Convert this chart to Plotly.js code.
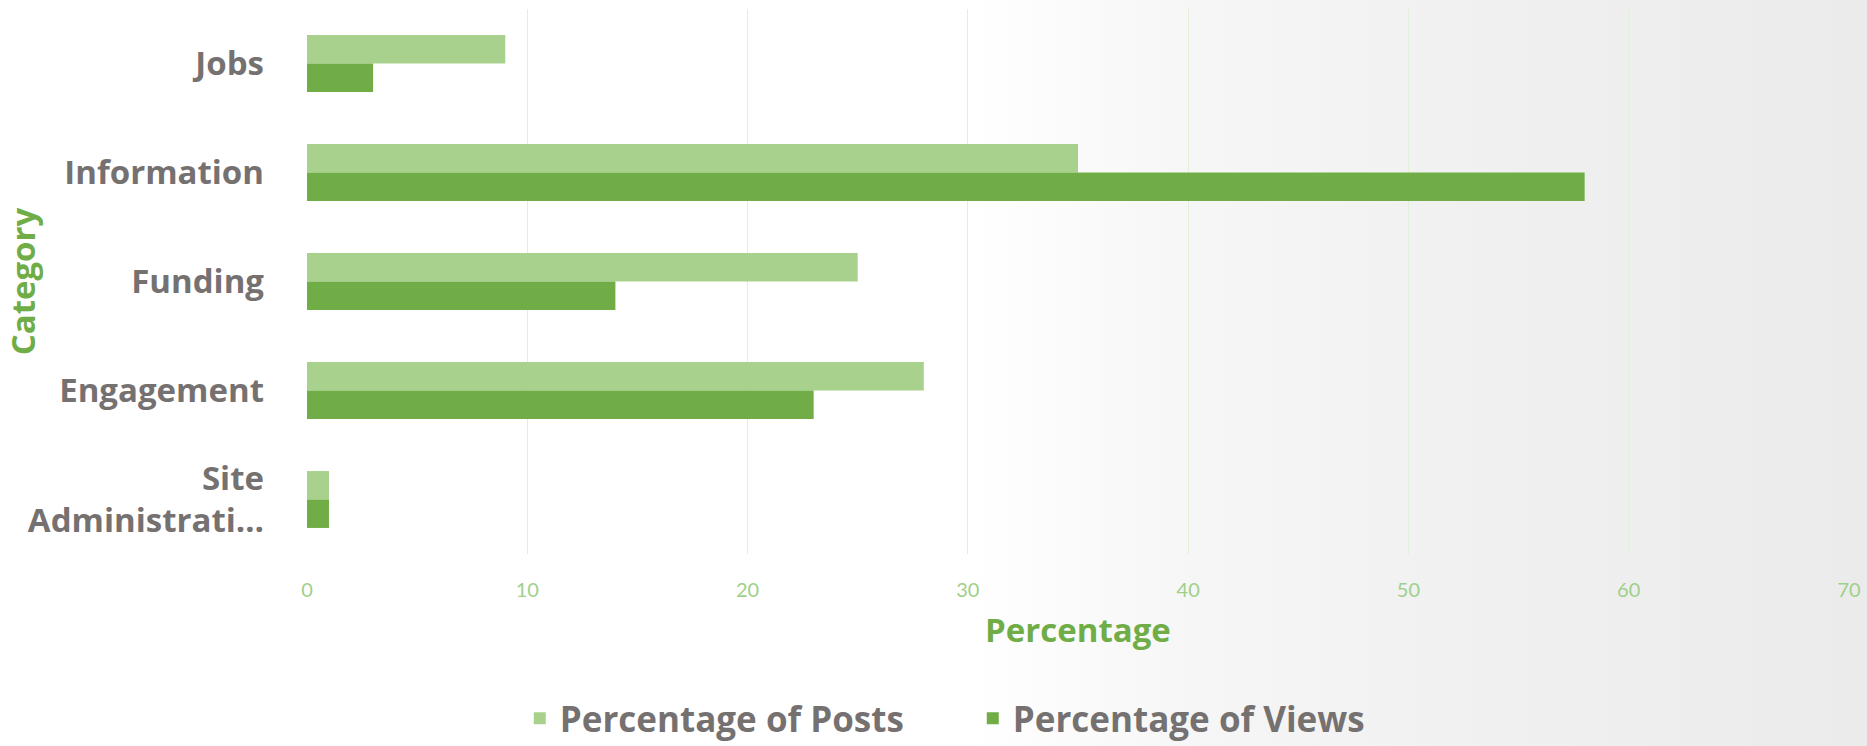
<!DOCTYPE html>
<html>
<head>
<meta charset="utf-8">
<script src="https://cdn.plot.ly/plotly-3.0.1.min.js"></script>
<style>
  html, body { margin: 0; padding: 0; }
  body {
    width: 1867px; height: 746px; overflow: hidden;
    background: linear-gradient(to right, #ffffff 0%, #ffffff 52%, #f6f6f6 64%, #f0f0f0 80%, #ebebeb 100%);
  }
  #chart { width: 1867px; height: 746px; }
</style>
</head>
<body>
<div id="chart"></div>
<script>
const categories = ["Jobs", "Information", "Funding", "Engagement", "Site<br>Administrati…"];
const postsPct = [9, 35, 25, 28, 1];
const viewsPct = [3, 58, 14, 23, 1];
const seriesNames = ["Percentage of Posts", "Percentage of Views"];
const xTicks = [0, 10, 20, 30, 40, 50, 60, 70];

const gray = "#767171";
const lightGreen = "#A9D18E";
const darkGreen = "#70AD47";
const fontFam = "'Open Sans', Lato, sans-serif";

const traces = [
  {
    type: "bar", orientation: "h",
    name: seriesNames[0], y: categories, x: postsPct,
    marker: { color: lightGreen },
    hoverinfo: "x+name"
  },
  {
    type: "bar", orientation: "h",
    name: seriesNames[1], y: categories, x: viewsPct,
    marker: { color: darkGreen },
    hoverinfo: "x+name"
  }
];

const layout = {
  width: 1867, height: 746,
  paper_bgcolor: "rgba(0,0,0,0)",
  plot_bgcolor: "rgba(0,0,0,0)",
  margin: { l: 307, r: 18, t: 9, b: 192 },
  barmode: "group",
  bargap: 0.478,
  bargroupgap: 0,
  font: { family: fontFam, color: gray },
  xaxis: {
    range: [0, 70],
    tickvals: xTicks,
    ticktext: xTicks.map(String),
    showgrid: true, gridcolor: "#E2EFD9", gridwidth: 1,
    zeroline: false, showline: false,
    ticks: "", ticklabelstandoff: 22,
    tickfont: { family: "Lato, sans-serif", size: 20, color: "#9FD08A" },
    title: { text: "Percentage", standoff: 18,
             font: { family: fontFam, size: 33, color: darkGreen, weight: "bold" } },
    fixedrange: true
  },
  yaxis: {
    type: "category",
    autorange: "reversed",
    showgrid: false, zeroline: false, showline: false,
    ticks: "", ticklabelstandoff: 42,
    tickfont: { family: fontFam, size: 33, color: gray, weight: "bold" },
    title: { text: "Category", standoff: 0,
             font: { family: fontFam, size: 33, color: darkGreen, weight: "bold" } },
    fixedrange: true
  },
  showlegend: true,
  legend: {
    orientation: "h",
    entrywidth: 408, entrywidthmode: "pixels",
    xref: "container", x: 0.2784, xanchor: "left",
    yref: "container", y: 0.037, yanchor: "middle",
    font: { family: fontFam, size: 35, color: gray, weight: "bold" },
    bgcolor: "rgba(0,0,0,0)",
    traceorder: "normal",
    itemclick: false, itemdoubleclick: false
  }
};

Plotly.newPlot("chart", traces, layout, { displayModeBar: false, staticPlot: true });
</script>
</body>
</html>
